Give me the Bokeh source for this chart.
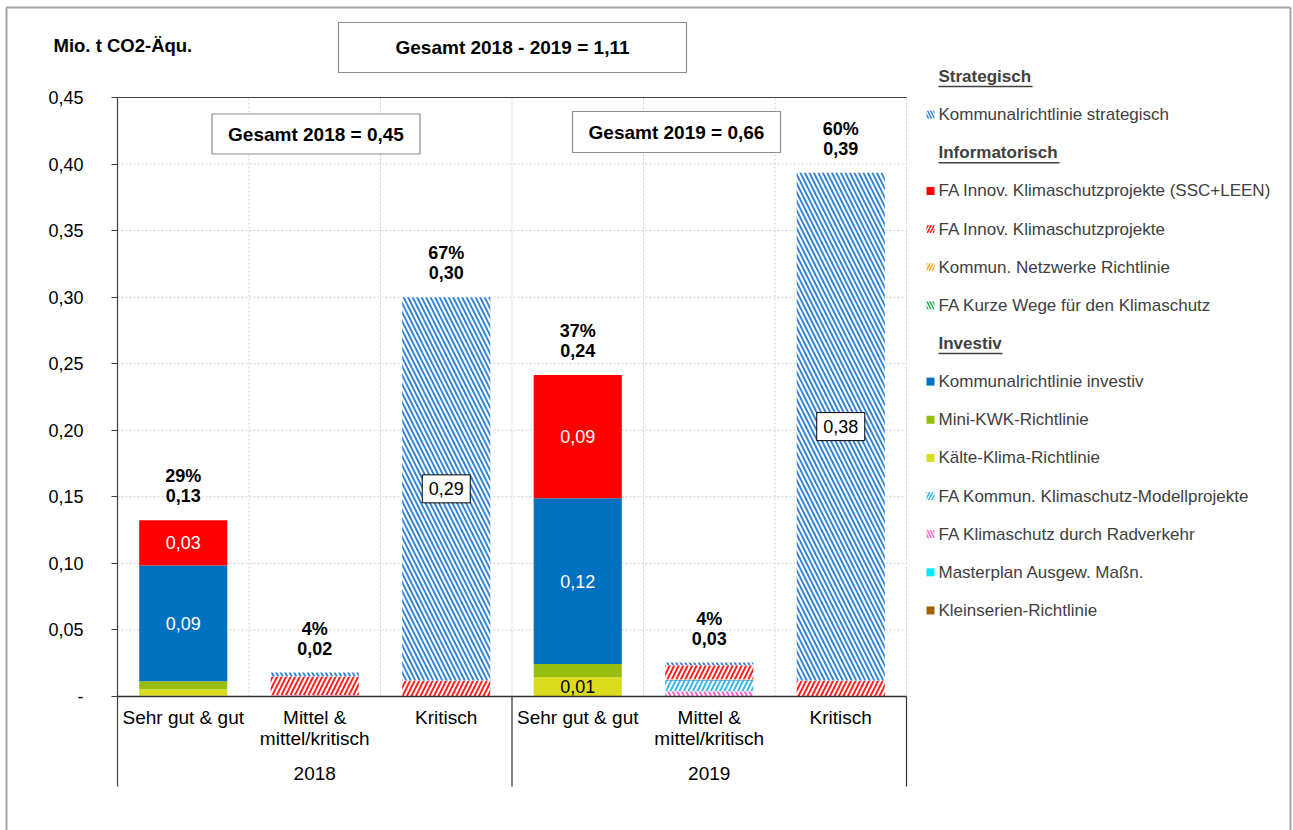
import numpy as np
from bokeh.plotting import figure
from bokeh.models import ColumnDataSource, Range1d, FixedTicker
from bokeh.embed import file_html
from bokeh.resources import INLINE
from bokeh.core.properties import value
from bokeh.transform import stack

# ---------------- data ----------------
years = ["2018", "2019"]
categories = ["Sehr gut & gut", "Mittel &\nmittel/kritisch", "Kritisch"]

# values per (year, category): 2018 S, M, K, 2019 S, M, K  (Mio. t CO2-Äqu.)
strategisch    = [0.0,    0.003, 0.288, 0.0,    0.002,  0.3815]
ssc_leen       = [0.034,  0.0,   0.0,   0.0925, 0.0,    0.0]
fa_innov       = [0.0,    0.014, 0.012, 0.0,    0.0105, 0.012]
netzwerke      = [0.0,    0.0,   0.0,   0.0,    0.0005, 0.0]
kurze_wege     = [0.0,    0.0,   0.0,   0.0,    0.0,    0.0]
komm_investiv  = [0.087,  0.0,   0.0,   0.1245, 0.0005, 0.0]
mini_kwk       = [0.006,  0.0,   0.0,   0.010,  0.0,    0.0]
kaelte         = [0.005,  0.0,   0.0,   0.0145, 0.0,    0.0]
modellprojekte = [0.0005, 0.0,   0.0,   0.0,    0.008,  0.0]
radverkehr     = [0.0,    0.001, 0.0,   0.0,    0.004,  0.0]
masterplan     = [0.0,    0.0,   0.0,   0.0,    0.0,    0.0]
kleinserien    = [0.0,    0.0,   0.0,   0.0,    0.0,    0.0]

legend_labels = [
    "Kommunalrichtlinie strategisch",
    "FA Innov. Klimaschutzprojekte (SSC+LEEN)",
    "FA Innov. Klimaschutzprojekte",
    "Kommun. Netzwerke Richtlinie",
    "FA Kurze Wege für den Klimaschutz",
    "Kommunalrichtlinie investiv",
    "Mini-KWK-Richtlinie",
    "Kälte-Klima-Richtlinie",
    "FA Kommun. Klimaschutz-Modellprojekte",
    "FA Klimaschutz durch Radverkehr",
    "Masterplan Ausgew. Maßn.",
    "Kleinserien-Richtlinie",
]
group_headers = ["Strategisch", "Informatorisch", "Investiv"]
group_sizes = [1, 4, 7]
y_ticks = [0.0, 0.05, 0.10, 0.15, 0.20, 0.25, 0.30, 0.35, 0.40, 0.45]
y_unit = "Mio. t CO2-Äqu."

series_values = [strategisch, ssc_leen, fa_innov, netzwerke, kurze_wege,
                 komm_investiv, mini_kwk, kaelte, modellprojekte, radverkehr,
                 masterplan, kleinserien]

# styles (fill, hatch pattern, hatch colour) in legend order
styles = [
    ("white", "\\", "#2F80D2"),
    ("#FF0000", None, None),
    ("white", "/", "#FF1A1A"),
    ("white", "/", "#FFA31A"),
    ("white", "\\", "#1FAE5A"),
    ("#0070C0", None, None),
    ("#97BD0F", None, None),
    ("#DCDC1E", None, None),
    ("white", "/", "#33B5E8"),
    ("white", "\\", "#FF5EC8"),
    ("#00E8FF", None, None),
    ("#A36200", None, None),
]

# ---------------- layout helpers (page pixel -> data) ----------------
FIG_W, FIG_H = 1293, 830
PX_X = 131.5            # px per category
PX_Y = 599 / 0.45       # px per unit
def X(px):
    return (px - 117) / PX_X
def Y(py):
    return (696 - py) / PX_Y

FONT = value("Liberation Sans")

def fmt(v):
    return f"{v:.2f}".replace(".", ",")

n_cat = len(years) * len(categories)
xs = np.arange(n_cat) + 0.5
keys = [f"s{i}" for i in range(len(series_values))]
data = {"x": xs}
for k, vals in zip(keys, series_values):
    data[k] = vals
src = ColumnDataSource(data)

p = figure(width=FIG_W, height=FIG_H, output_backend="svg", toolbar_location=None,
           x_range=Range1d(X(0), X(FIG_W)), y_range=Range1d(Y(FIG_H), Y(0)),
           x_axis_location=None, y_axis_location="left")
p.min_border = 0
p.outline_line_color = None
p.background_fill_color = "white"
p.border_fill_color = "white"
p.xgrid.visible = False
p.ygrid.visible = False

# outer border
p.segment(x0=[X(6), X(6), X(1290)], x1=[X(6), X(1290), X(1290)],
          y0=[Y(7), Y(7), Y(7)], y1=[Y(FIG_H + 5), Y(7), Y(FIG_H + 5)],
          line_color="#a6a6a6", line_width=2)

# y axis (drawn at x = 0 inside the frame)
ax = p.yaxis[0]
ax.fixed_location = 0
ax.ticker = FixedTicker(ticks=y_ticks)
ax.major_label_overrides = {t: ("-" if t == 0 else fmt(t)) for t in y_ticks}
ax.bounds = (Y(786), y_ticks[-1])
ax.axis_line_color = "#404040"
ax.axis_line_width = 1.2
ax.major_tick_line_color = "#404040"
ax.major_tick_out = 6
ax.major_tick_in = 0
ax.minor_tick_line_color = None
ax.major_label_standoff = 28
ax.major_label_text_font = "Liberation Sans"
ax.major_label_text_font_size = "18px"
ax.major_label_text_color = "black"

# grid lines (light, dotted)
yt = np.array(y_ticks)
p.segment(x0=0, x1=n_cat, y0=yt[1:-1], y1=yt[1:-1], line_color="#cfcfcf",
          line_dash="2 2", line_width=1)
p.segment(x0=np.arange(1, n_cat + 1), x1=np.arange(1, n_cat + 1), y0=0, y1=yt[-1],
          line_color="#cfcfcf", line_dash="2 2", line_width=1)

# stacked bars (bottom -> top is the reverse of the legend order)
order = list(range(len(series_values)))[::-1]
for k, idx in enumerate(order):
    names = [keys[i] for i in order[: k + 1]]
    fill, hp, hc = styles[idx]
    kw = dict(x="x", width=0.67, source=src,
              top=stack(*names), bottom=(stack(*names[:-1]) if k > 0 else 0),
              fill_color=fill, line_color=None)
    if hp is not None:
        kw.update(hatch_pattern=hp, hatch_color=hc, hatch_scale=9, hatch_weight=1.9)
    p.vbar(**kw)

# axis frame lines
p.segment(x0=0, x1=n_cat, y0=yt[-1], y1=yt[-1], line_color="#404040", line_width=1.2)
p.segment(x0=0, x1=n_cat, y0=0, y1=0, line_color="#303030", line_width=1.5)
seps = np.arange(1, len(years) + 1) * len(categories)
p.segment(x0=seps, x1=seps, y0=Y(786), y1=0, line_color="#303030", line_width=1.2)

# category and year labels
p.text(x=xs, y=Y(706), text=categories * len(years), text_align="center",
       text_baseline="top", text_font=FONT, text_font_size="19px",
       text_color="black", text_line_height=1.0)
p.text(x=(np.arange(len(years)) + 0.5) * len(categories), y=Y(773), text=years,
       text_align="center", text_baseline="middle", text_font=FONT,
       text_font_size="19px", text_color="black")

# totals
vals = np.array(series_values)
totals = vals.sum(axis=0)
year_tot = totals.reshape(len(years), len(categories)).sum(axis=1)
pct = [f"{round(100 * totals[i] / year_tot[i // len(categories)])}%\n{fmt(totals[i])}"
       for i in range(n_cat)]
p.text(x=xs, y=totals, text=pct, text_align="center", text_baseline="bottom",
       y_offset=-14, text_font=FONT, text_font_size="18px", text_font_style="bold",
       text_color="black", text_line_height=1.0)

# segment labels
stack_vals = vals[order]
cum = np.cumsum(stack_vals, axis=0)
def mid_of(idx):
    pos = order.index(idx)
    return cum[pos] - stack_vals[pos] / 2

for idx, color in [(1, "white"), (5, "white"), (7, "black")]:
    v = np.array(series_values[idx])
    m = v >= 0.01
    p.text(x=xs[m], y=mid_of(idx)[m], text=[fmt(t) for t in v[m]],
           text_align="center", text_baseline="middle", text_font=FONT,
           text_font_size="18px", text_color=color)

v = np.array(series_values[0])
m = v >= 0.01
p.rect(x=xs[m], y=mid_of(0)[m], width=48, height=28, width_units="screen",
       height_units="screen", fill_color="white", line_color="black", line_width=1)
p.text(x=xs[m], y=mid_of(0)[m], text=[fmt(t) for t in v[m]], text_align="center",
       text_baseline="middle", text_font=FONT, text_font_size="18px", text_color="black")

# "Gesamt" boxes
box_x = [X(315.5), X(676), X(512)]
box_y = [Y(133.5), Y(131.5), Y(47)]
box_w = [208, 208, 348]
box_h = [40, 41, 50]
box_t = [f"Gesamt {years[0]} = {fmt(year_tot[0])}",
         f"Gesamt {years[1]} = {fmt(year_tot[1])}",
         f"Gesamt {years[0]} - {years[1]} = {fmt(year_tot.sum())}"]
p.rect(x=box_x, y=box_y, width=box_w, height=box_h, width_units="screen",
       height_units="screen", fill_color="white", line_color="#8c8c8c", line_width=1.2)
p.text(x=box_x, y=box_y, text=box_t, text_align="center", text_baseline="middle",
       text_font=FONT, text_font_size="19px", text_font_style="bold", text_color="black")

# unit label
p.text(x=[X(53)], y=[Y(45)], text=[y_unit], text_align="left", text_baseline="middle",
       text_font=FONT, text_font_size="18.5px", text_font_style="bold", text_color="black")

# legend (manual, with group headers)
ly = 76.0
step = 38.14
hx, hy, hw = [], [], []
ix, iy = [], []
header_w = {"Strategisch": 94, "Informatorisch": 121, "Investiv": 64}
li = 0
for g, n in zip(group_headers, group_sizes):
    hx.append(X(938)); hy.append(Y(ly)); hw.append(header_w[g])
    ly += step
    for _ in range(n):
        ix.append(li); iy.append(Y(ly))
        ly += step
        li += 1

p.text(x=hx, y=hy, text=group_headers, text_align="left", text_baseline="middle",
       text_font=FONT, text_font_size="17px", text_font_style="bold", text_color="#404040")
hx_arr = np.array(hx)
p.segment(x0=hx_arr, x1=hx_arr + np.array(hw) / PX_X, y0=np.array(hy) - 10 / PX_Y,
          y1=np.array(hy) - 10 / PX_Y, line_color="#404040", line_width=1.5)

for li, yy in zip(ix, iy):
    fill, hp, hc = styles[li]
    kw = dict(x=X(930), y=yy, width=8, height=8, width_units="screen",
              height_units="screen", fill_color=fill, line_color=None)
    if hp is not None:
        kw.update(hatch_pattern=hp, hatch_color=hc, hatch_scale=6, hatch_weight=1.5)
    p.rect(**kw)
p.text(x=X(938), y=iy, text=legend_labels, text_align="left", text_baseline="middle",
       text_font=FONT, text_font_size="17px", text_color="#404040")

open("out.html", "w").write(file_html(p, INLINE))
